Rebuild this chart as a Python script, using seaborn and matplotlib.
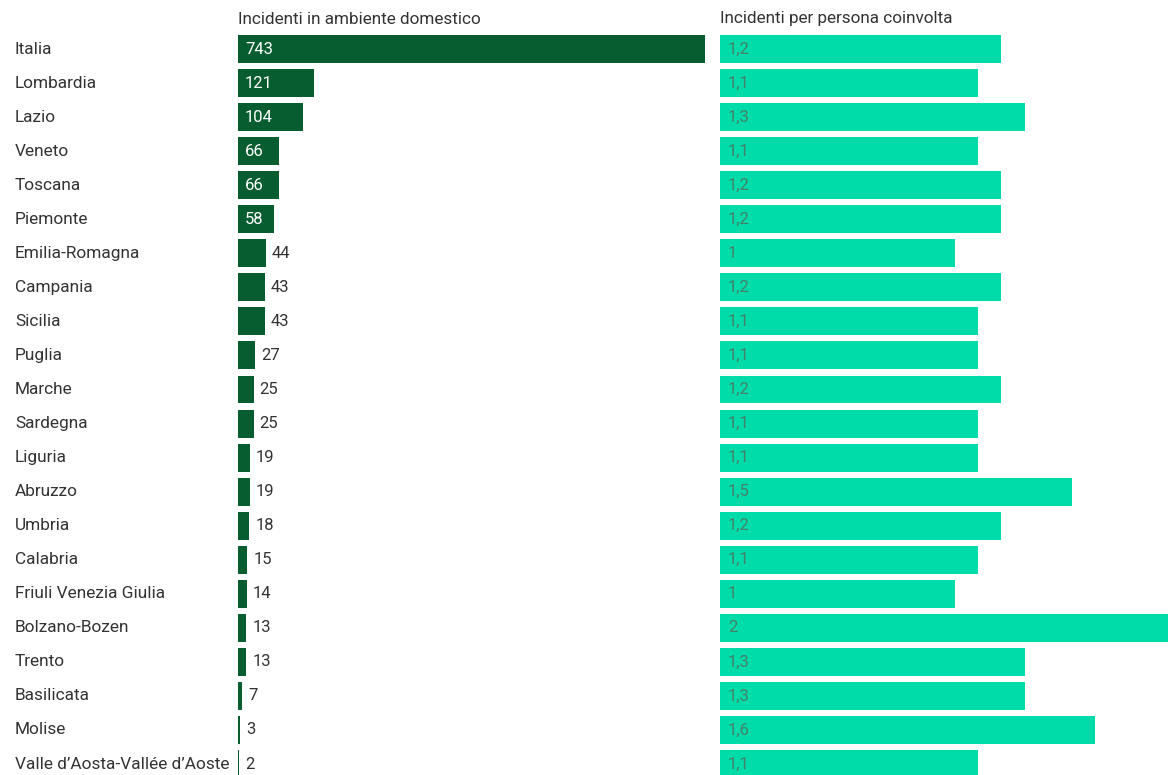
import matplotlib
matplotlib.use("Agg")
import matplotlib.pyplot as plt
import matplotlib.transforms as mtransforms
import seaborn as sns
import pandas as pd

regions = ["Italia", "Lombardia", "Lazio", "Veneto", "Toscana", "Piemonte",
           "Emilia-Romagna", "Campania", "Sicilia", "Puglia", "Marche", "Sardegna",
           "Liguria", "Abruzzo", "Umbria", "Calabria", "Friuli Venezia Giulia",
           "Bolzano-Bozen", "Trento", "Basilicata", "Molise",
           "Valle d\u2019Aosta-Vall\u00e9e d\u2019Aoste"]
incidenti = [743, 121, 104, 66, 66, 58, 44, 43, 43, 27, 25, 25, 19, 19, 18, 15,
             14, 13, 13, 7, 3, 2]
per_persona = [1.2, 1.1, 1.3, 1.1, 1.2, 1.2, 1.0, 1.2, 1.1, 1.1, 1.2, 1.1, 1.1,
               1.5, 1.2, 1.1, 1.0, 2.0, 1.3, 1.3, 1.6, 1.1]
headers = ["Incidenti in ambiente domestico", "Incidenti per persona coinvolta"]

df = pd.DataFrame({"regione": regions, "incidenti": incidenti, "per_persona": per_persona})

sns.set_theme(style="white")
plt.rcParams["font.family"] = ["Roboto", "DejaVu Sans"]

W, H = 1168, 775
fig = plt.figure(figsize=(W / 100, H / 100), dpi=100)

DARK = "#075c30"
TEAL = "#00dca9"
TXT = "#333333"
FS_HEAD = 12.3
FS_LAB = 12.4
FS_VAL = 12

top_px, bot_px = 32, 775
row0, step = 49, 34.05
ylo = -(row0 - top_px) / step
yhi = (bot_px - row0) / step

def make_ax(x0_px, x1_px):
    return fig.add_axes([x0_px / W, (H - bot_px) / H, (x1_px - x0_px) / W, (bot_px - top_px) / H])

ax1 = make_ax(238, 705)
ax2 = make_ax(720, 1168)

sns.barplot(data=df, y="regione", x="incidenti", orient="h", color=DARK,
            width=0.82, ax=ax1, saturation=1, linewidth=0)
sns.barplot(data=df, y="regione", x="per_persona", orient="h", color=TEAL,
            width=0.82, ax=ax2, saturation=1, linewidth=0)

ax1.set_xlim(0, max(incidenti))
ax2.set_xlim(0, 448 / 234.5)
for ax in (ax1, ax2):
    ax.set_ylim(yhi, ylo)
    ax.set_axis_off()

def off(ax, dx_px):
    return ax.transData + mtransforms.ScaledTranslation(dx_px / 100, 0, fig.dpi_scale_trans)

for i, (r, v, p) in enumerate(zip(regions, incidenti, per_persona)):
    tr = mtransforms.blended_transform_factory(fig.transFigure, ax1.transData)
    ax1.text(15 / W, i, r, transform=tr, ha="left", va="center", fontsize=FS_LAB, color=TXT)
    if v >= 50:
        ax1.text(0, i, str(v), transform=off(ax1, 7), ha="left", va="center",
                 fontsize=FS_VAL, color="white")
    else:
        ax1.text(v, i, str(v), transform=off(ax1, 6), ha="left", va="center",
                 fontsize=FS_VAL, color=TXT)
    lab = ("%g" % p).replace(".", ",")
    ax2.text(0, i, lab, transform=off(ax2, 8), ha="left", va="center",
             fontsize=FS_VAL, color="#45806a")

fig.text(238 / W, 1 - 19 / H, headers[0], ha="left", va="center", fontsize=FS_HEAD, color=TXT)
fig.text(720 / W, 1 - 19 / H, headers[1], ha="left", va="center", fontsize=FS_HEAD, color=TXT)

fig.savefig("out.png", dpi=100, facecolor="white")
